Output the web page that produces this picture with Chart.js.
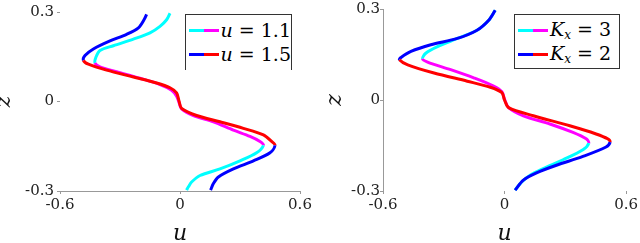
<!DOCTYPE html>
<html>
<head>
<meta charset="utf-8">
<script src="https://cdn.jsdelivr.net/npm/chart.js@4/dist/chart.umd.min.js"></script>
<style>
  html, body { margin: 0; padding: 0; background: #fff; }
  body { width: 640px; height: 243px; position: relative; overflow: hidden; }
  .panel { position: absolute; top: 0; width: 320px; height: 243px; }
  .legend {
    position: absolute; background: #fff; border: 1px solid #333;
    font-family: "DejaVu Serif", serif; font-size: 19px; color: #000;
    box-sizing: border-box; padding: 3px 0 0 3px;
  }
  .row { display: flex; align-items: center; height: 24px; white-space: nowrap; }
  .swatch { width: 30px; height: 3px; margin-right: 2px; }
  .legend i { font-style: italic; }
  .legend sub { font-size: 12px; font-style: italic; vertical-align: -3px; }
</style>
</head>
<body>
<div class="panel" style="left:0"><canvas id="left" width="320" height="243"></canvas></div>
<div class="panel" style="left:320px"><canvas id="right" width="320" height="243"></canvas></div>

<div class="legend" style="left:185px; top:14px; width:107px; height:56px; border-bottom:none;">
  <div class="row"><div class="swatch" style="background:linear-gradient(90deg,#00ffff 50%,#ff00ff 50%)"></div><span><i>u</i> = 1.1</span></div>
  <div class="row"><div class="swatch" style="background:linear-gradient(90deg,#0000ff 50%,#ff0000 50%)"></div><span><i>u</i> = 1.5</span></div>
</div>
<div class="legend" style="left:514px; top:14px; width:106px; height:55px;">
  <div class="row"><div class="swatch" style="background:linear-gradient(90deg,#00ffff 50%,#ff00ff 50%)"></div><span><i>K</i><sub>x</sub> = 3</span></div>
  <div class="row"><div class="swatch" style="background:linear-gradient(90deg,#0000ff 50%,#ff0000 50%)"></div><span><i>K</i><sub>x</sub> = 2</span></div>
</div>

<script>
// left panel, u = 1.1
const zLeftA = [0.296, 0.274, 0.252, 0.23, 0.209, 0.187, 0.171, 0.149, 0.129, 0.116, 0.1, 0.078, 0.057, 0.038, 0.018, -0.003, -0.025, -0.047, -0.068, -0.096, -0.117, -0.134, -0.147, -0.172, -0.199, -0.226, -0.248, -0.27, -0.286, -0.297]
const uLeftA = [-0.05, -0.067, -0.1, -0.15, -0.233, -0.333, -0.4, -0.42, -0.425, -0.4, -0.317, -0.2, -0.1, -0.042, -0.017, -0.005, 0.008, 0.067, 0.167, 0.267, 0.35, 0.4, 0.417, 0.383, 0.3, 0.2, 0.1, 0.058, 0.042, 0.033]
// left panel, u = 1.5
const zLeftB = [0.292, 0.274, 0.247, 0.225, 0.203, 0.176, 0.154, 0.138, 0.125, 0.105, 0.082, 0.062, 0.046, 0.029, 0.002, -0.023, -0.047, -0.068, -0.09, -0.112, -0.134, -0.147, -0.172, -0.199, -0.226, -0.253, -0.275, -0.297]
const uLeftB = [-0.167, -0.18, -0.208, -0.267, -0.35, -0.433, -0.475, -0.483, -0.458, -0.367, -0.233, -0.117, -0.05, -0.017, -0.005, 0.008, 0.083, 0.2, 0.317, 0.417, 0.458, 0.475, 0.45, 0.367, 0.267, 0.192, 0.167, 0.153]
// right panel, Kx = 3
const zRightA = [0.296, 0.263, 0.23, 0.203, 0.176, 0.154, 0.136, 0.125, 0.1, 0.073, 0.046, 0.027, 0.002, -0.025, -0.052, -0.079, -0.107, -0.128, -0.142, -0.164, -0.197, -0.226, -0.248, -0.27, -0.297]
const uRightA = [-0.046, -0.078, -0.136, -0.233, -0.331, -0.389, -0.405, -0.38, -0.266, -0.152, -0.054, -0.013, 0, 0.02, 0.093, 0.224, 0.338, 0.403, 0.416, 0.387, 0.289, 0.191, 0.126, 0.085, 0.052]
// right panel, Kx = 2
const zRightB = [0.296, 0.263, 0.23, 0.203, 0.182, 0.16, 0.14, 0.133, 0.116, 0.089, 0.062, 0.042, 0.024, 0, -0.025, -0.052, -0.085, -0.112, -0.128, -0.139, -0.155, -0.186, -0.215, -0.24, -0.264, -0.297]
const uRightB = [-0.046, -0.078, -0.136, -0.233, -0.364, -0.462, -0.511, -0.519, -0.478, -0.348, -0.184, -0.07, -0.013, 0, 0.02, 0.142, 0.322, 0.452, 0.509, 0.521, 0.501, 0.387, 0.256, 0.158, 0.093, 0.052]

const xTicks = [-0.6, 0, 0.6]
const yTicks = [-0.3, 0, 0.3]

const serif = '"DejaVu Serif", serif'

function series(u, z, outer, inner) {
    const iMin = u.indexOf(Math.min(...u))
    const iMax = u.indexOf(Math.max(...u))
    return {
        data: u.map((v, i) => ({ x: v, y: z[i] })),
        showLine: true,
        borderWidth: 3,
        pointRadius: 0,
        tension: 0.3,
        borderColor: outer,
        segment: {
            borderColor: (ctx) => (ctx.p0DataIndex >= iMin && ctx.p1DataIndex <= iMax) ? inner : outer
        }
    }
}

function panel(id, datasets, o) {
    return new Chart(document.getElementById(id), {
        type: 'scatter',
        data: { datasets: datasets },
        options: {
            responsive: false,
            animation: false,
            layout: { padding: { left: 0, right: o.right, top: 7, bottom: 0 } },
            plugins: { legend: { display: false }, tooltip: { enabled: false } },
            scales: {
                x: {
                    min: -0.6, max: 0.6,
                    afterBuildTicks: (s) => { s.ticks = xTicks.map((v) => ({ value: v })) },
                    afterFit: (s) => { s.height = 52 },
                    border: { display: o.xBorder, color: '#999' },
                    grid: { drawOnChartArea: false, tickLength: 3, color: '#999' },
                    ticks: { color: '#222', font: { family: serif, size: 15 }, padding: 2,
                             callback: (v) => String(v) },
                    title: { display: true, text: 'u', color: '#111', padding: { top: 4, bottom: 0 },
                             font: { family: serif, size: 22, style: 'italic', lineHeight: 0.8 } }
                },
                y: {
                    min: -0.3, max: 0.3,
                    afterBuildTicks: (s) => { s.ticks = yTicks.map((v) => ({ value: v })) },
                    afterFit: (s) => { s.width = o.yWidth },
                    border: { display: o.yBorder, color: '#999' },
                    grid: { drawOnChartArea: false, tickLength: 3, color: '#999' },
                    ticks: { color: '#222', font: { family: serif, size: 15 }, padding: o.yPad,
                             callback: (v) => String(v) },
                    title: { display: true, text: 'z', color: '#111', padding: { top: o.zPad, bottom: 0 },
                             font: { family: serif, size: 22, style: 'italic', lineHeight: o.zLine } }
                }
            }
        }
    })
}

panel('left', [
    series(uLeftB, zLeftB, '#0000ff', '#ff0000'),
    series(uLeftA, zLeftA, '#00ffff', '#ff00ff')
], { right: 20, yWidth: 60, xBorder: true, yBorder: false, yPad: 3, zPad: 0, zLine: 0.4 })

panel('right', [
    series(uRightB, zRightB, '#0000ff', '#ff0000'),
    series(uRightA, zRightA, '#00ffff', '#ff00ff')
], { right: 12, yWidth: 63, xBorder: false, yBorder: true, yPad: 0, zPad: 2, zLine: 1.2 })
</script>
</body>
</html>
